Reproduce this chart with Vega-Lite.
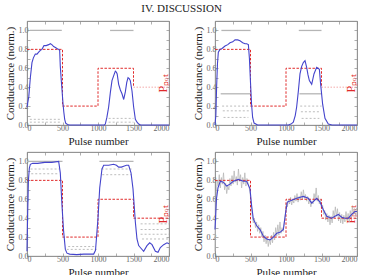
{
  "$schema": "https://vega.github.io/schema/vega-lite/v6.json",
  "title": {"text": "IV.    DISCUSSION", "font": "Liberation Serif", "fontSize": 11, "fontWeight": "normal", "color": "#222", "anchor": "middle", "offset": 6},
  "padding": {"left": 3, "right": 5, "top": 3, "bottom": 0},
  "bounds": "flush",
  "columns": 2,
  "spacing": {"row": 27, "column": 46},
  "datasets": {
    "traces": [
      {"panel":1,"series":"G","seg":"a","pulse":0,"cond":0.19},{"panel":1,"series":"G","seg":"a","pulse":25,"cond":0.3},{"panel":1,"series":"G","seg":"a","pulse":47,"cond":0.5},{"panel":1,"series":"G","seg":"a","pulse":70,"cond":0.66},{"panel":1,"series":"G","seg":"a","pulse":90,"cond":0.71},{"panel":1,"series":"G","seg":"a","pulse":117,"cond":0.75},{"panel":1,"series":"G","seg":"a","pulse":141,"cond":0.75},{"panel":1,"series":"G","seg":"a","pulse":164,"cond":0.77},{"panel":1,"series":"G","seg":"a","pulse":188,"cond":0.79},{"panel":1,"series":"G","seg":"a","pulse":211,"cond":0.8},{"panel":1,"series":"G","seg":"a","pulse":239,"cond":0.84},{"panel":1,"series":"G","seg":"a","pulse":270,"cond":0.84},{"panel":1,"series":"G","seg":"a","pulse":305,"cond":0.85},{"panel":1,"series":"G","seg":"a","pulse":329,"cond":0.86},{"panel":1,"series":"G","seg":"a","pulse":350,"cond":0.85},{"panel":1,"series":"G","seg":"a","pulse":376,"cond":0.83},{"panel":1,"series":"G","seg":"a","pulse":400,"cond":0.82},{"panel":1,"series":"G","seg":"a","pulse":422,"cond":0.81},{"panel":1,"series":"G","seg":"a","pulse":446,"cond":0.8},{"panel":1,"series":"G","seg":"a","pulse":460,"cond":0.79},{"panel":1,"series":"G","seg":"a","pulse":469,"cond":0.62},{"panel":1,"series":"G","seg":"a","pulse":482,"cond":0.48},{"panel":1,"series":"G","seg":"a","pulse":493,"cond":0.37},{"panel":1,"series":"G","seg":"a","pulse":507,"cond":0.23},{"panel":1,"series":"G","seg":"a","pulse":518,"cond":0.14},{"panel":1,"series":"G","seg":"a","pulse":531,"cond":0.06},{"panel":1,"series":"G","seg":"a","pulse":545,"cond":0.02},{"panel":1,"series":"G","seg":"a","pulse":570,"cond":0.005},{"panel":1,"series":"G","seg":"a","pulse":600,"cond":0},{"panel":1,"series":"G","seg":"a","pulse":1090,"cond":0},{"panel":1,"series":"G","seg":"a","pulse":1103,"cond":0.01},{"panel":1,"series":"G","seg":"a","pulse":1125,"cond":0.08},{"panel":1,"series":"G","seg":"a","pulse":1150,"cond":0.19},{"panel":1,"series":"G","seg":"a","pulse":1175,"cond":0.35},{"panel":1,"series":"G","seg":"a","pulse":1197,"cond":0.47},{"panel":1,"series":"G","seg":"a","pulse":1220,"cond":0.52},{"panel":1,"series":"G","seg":"a","pulse":1244,"cond":0.57},{"panel":1,"series":"G","seg":"a","pulse":1258,"cond":0.56},{"panel":1,"series":"G","seg":"a","pulse":1270,"cond":0.54},{"panel":1,"series":"G","seg":"a","pulse":1291,"cond":0.43},{"panel":1,"series":"G","seg":"a","pulse":1315,"cond":0.37},{"panel":1,"series":"G","seg":"a","pulse":1338,"cond":0.33},{"panel":1,"series":"G","seg":"a","pulse":1362,"cond":0.27},{"panel":1,"series":"G","seg":"a","pulse":1385,"cond":0.35},{"panel":1,"series":"G","seg":"a","pulse":1405,"cond":0.45},{"panel":1,"series":"G","seg":"a","pulse":1423,"cond":0.5},{"panel":1,"series":"G","seg":"a","pulse":1440,"cond":0.49},{"panel":1,"series":"G","seg":"a","pulse":1455,"cond":0.47},{"panel":1,"series":"G","seg":"a","pulse":1479,"cond":0.36},{"panel":1,"series":"G","seg":"a","pulse":1502,"cond":0.19},{"panel":1,"series":"G","seg":"a","pulse":1526,"cond":0.06},{"panel":1,"series":"G","seg":"a","pulse":1550,"cond":0.03},{"panel":1,"series":"G","seg":"a","pulse":1573,"cond":0.01},{"panel":1,"series":"G","seg":"a","pulse":1600,"cond":0},{"panel":1,"series":"G","seg":"a","pulse":2000,"cond":0},
      {"panel":1,"series":"P","seg":"a","pulse":0,"cond":0.8},{"panel":1,"series":"P","seg":"a","pulse":500,"cond":0.8},{"panel":1,"series":"P","seg":"a","pulse":500,"cond":0.2},{"panel":1,"series":"P","seg":"a","pulse":1000,"cond":0.2},{"panel":1,"series":"P","seg":"a","pulse":1000,"cond":0.6},{"panel":1,"series":"P","seg":"a","pulse":1500,"cond":0.6},{"panel":1,"series":"P","seg":"a","pulse":1500,"cond":0.4},
      {"panel":1,"series":"Pf","seg":"a","pulse":1500,"cond":0.4},{"panel":1,"series":"Pf","seg":"a","pulse":2000,"cond":0.4},
      {"panel":1,"series":"gs","seg":"a","pulse":40,"cond":1.0},{"panel":1,"series":"gs","seg":"a","pulse":490,"cond":1.0},{"panel":1,"series":"gs","seg":"b","pulse":1170,"cond":1.0},{"panel":1,"series":"gs","seg":"b","pulse":1500,"cond":1.0},
      {"panel":1,"series":"gd","seg":"a","pulse":40,"cond":0.06},{"panel":1,"series":"gd","seg":"a","pulse":490,"cond":0.06},{"panel":1,"series":"gd","seg":"b","pulse":40,"cond":0.03},{"panel":1,"series":"gd","seg":"b","pulse":490,"cond":0.03},{"panel":1,"series":"gd","seg":"c","pulse":1150,"cond":0.07},{"panel":1,"series":"gd","seg":"c","pulse":1500,"cond":0.07},{"panel":1,"series":"gd","seg":"d","pulse":1150,"cond":0.03},{"panel":1,"series":"gd","seg":"d","pulse":1500,"cond":0.03},

      {"panel":2,"series":"G","seg":"a","pulse":0,"cond":0},{"panel":2,"series":"G","seg":"a","pulse":12,"cond":0.1},{"panel":2,"series":"G","seg":"a","pulse":23,"cond":0.41},{"panel":2,"series":"G","seg":"a","pulse":35,"cond":0.65},{"panel":2,"series":"G","seg":"a","pulse":47,"cond":0.77},{"panel":2,"series":"G","seg":"a","pulse":70,"cond":0.8},{"panel":2,"series":"G","seg":"a","pulse":100,"cond":0.81},{"panel":2,"series":"G","seg":"a","pulse":141,"cond":0.835},{"panel":2,"series":"G","seg":"a","pulse":180,"cond":0.85},{"panel":2,"series":"G","seg":"a","pulse":211,"cond":0.87},{"panel":2,"series":"G","seg":"a","pulse":250,"cond":0.88},{"panel":2,"series":"G","seg":"a","pulse":282,"cond":0.9},{"panel":2,"series":"G","seg":"a","pulse":320,"cond":0.9},{"panel":2,"series":"G","seg":"a","pulse":352,"cond":0.89},{"panel":2,"series":"G","seg":"a","pulse":390,"cond":0.87},{"panel":2,"series":"G","seg":"a","pulse":423,"cond":0.86},{"panel":2,"series":"G","seg":"a","pulse":446,"cond":0.86},{"panel":2,"series":"G","seg":"a","pulse":470,"cond":0.85},{"panel":2,"series":"G","seg":"a","pulse":485,"cond":0.7},{"panel":2,"series":"G","seg":"a","pulse":500,"cond":0.45},{"panel":2,"series":"G","seg":"a","pulse":515,"cond":0.22},{"panel":2,"series":"G","seg":"a","pulse":530,"cond":0.08},{"panel":2,"series":"G","seg":"a","pulse":550,"cond":0.02},{"panel":2,"series":"G","seg":"a","pulse":600,"cond":0},{"panel":2,"series":"G","seg":"a","pulse":1033,"cond":0},{"panel":2,"series":"G","seg":"a","pulse":1070,"cond":0.01},{"panel":2,"series":"G","seg":"a","pulse":1103,"cond":0.03},{"panel":2,"series":"G","seg":"a","pulse":1130,"cond":0.1},{"panel":2,"series":"G","seg":"a","pulse":1150,"cond":0.19},{"panel":2,"series":"G","seg":"a","pulse":1174,"cond":0.36},{"panel":2,"series":"G","seg":"a","pulse":1197,"cond":0.54},{"panel":2,"series":"G","seg":"a","pulse":1221,"cond":0.62},{"panel":2,"series":"G","seg":"a","pulse":1244,"cond":0.66},{"panel":2,"series":"G","seg":"a","pulse":1268,"cond":0.68},{"panel":2,"series":"G","seg":"a","pulse":1291,"cond":0.61},{"panel":2,"series":"G","seg":"a","pulse":1310,"cond":0.53},{"panel":2,"series":"G","seg":"a","pulse":1329,"cond":0.47},{"panel":2,"series":"G","seg":"a","pulse":1362,"cond":0.43},{"panel":2,"series":"G","seg":"a","pulse":1394,"cond":0.54},{"panel":2,"series":"G","seg":"a","pulse":1432,"cond":0.61},{"panel":2,"series":"G","seg":"a","pulse":1470,"cond":0.59},{"panel":2,"series":"G","seg":"a","pulse":1488,"cond":0.43},{"panel":2,"series":"G","seg":"a","pulse":1516,"cond":0.22},{"panel":2,"series":"G","seg":"a","pulse":1549,"cond":0.07},{"panel":2,"series":"G","seg":"a","pulse":1596,"cond":0.01},{"panel":2,"series":"G","seg":"a","pulse":1650,"cond":0},{"panel":2,"series":"G","seg":"a","pulse":2000,"cond":0},
      {"panel":2,"series":"P","seg":"a","pulse":0,"cond":0.8},{"panel":2,"series":"P","seg":"a","pulse":500,"cond":0.8},{"panel":2,"series":"P","seg":"a","pulse":500,"cond":0.2},{"panel":2,"series":"P","seg":"a","pulse":1000,"cond":0.2},{"panel":2,"series":"P","seg":"a","pulse":1000,"cond":0.6},{"panel":2,"series":"P","seg":"a","pulse":1500,"cond":0.6},{"panel":2,"series":"P","seg":"a","pulse":1500,"cond":0.4},
      {"panel":2,"series":"Pf","seg":"a","pulse":1500,"cond":0.4},{"panel":2,"series":"Pf","seg":"a","pulse":2000,"cond":0.4},
      {"panel":2,"series":"gs","seg":"a","pulse":90,"cond":1.0},{"panel":2,"series":"gs","seg":"a","pulse":500,"cond":1.0},{"panel":2,"series":"gs","seg":"b","pulse":1180,"cond":1.0},{"panel":2,"series":"gs","seg":"b","pulse":1500,"cond":1.0},{"panel":2,"series":"gs","seg":"c","pulse":80,"cond":0.33},{"panel":2,"series":"gs","seg":"c","pulse":500,"cond":0.33},{"panel":2,"series":"gs","seg":"d","pulse":1190,"cond":0.33},{"panel":2,"series":"gs","seg":"d","pulse":1500,"cond":0.33},
      {"panel":2,"series":"gd","seg":"a","pulse":100,"cond":0.2},{"panel":2,"series":"gd","seg":"a","pulse":500,"cond":0.2},{"panel":2,"series":"gd","seg":"b","pulse":1200,"cond":0.2},{"panel":2,"series":"gd","seg":"b","pulse":1500,"cond":0.2},{"panel":2,"series":"gd","seg":"c","pulse":110,"cond":0.15},{"panel":2,"series":"gd","seg":"c","pulse":480,"cond":0.15},{"panel":2,"series":"gd","seg":"d","pulse":1210,"cond":0.14},{"panel":2,"series":"gd","seg":"d","pulse":1480,"cond":0.14},{"panel":2,"series":"gd","seg":"e","pulse":120,"cond":0.08},{"panel":2,"series":"gd","seg":"e","pulse":470,"cond":0.08},{"panel":2,"series":"gd","seg":"f","pulse":1220,"cond":0.07},{"panel":2,"series":"gd","seg":"f","pulse":1470,"cond":0.07},

      {"panel":3,"series":"G","seg":"a","pulse":0,"cond":0.05},{"panel":3,"series":"G","seg":"a","pulse":8,"cond":0.4},{"panel":3,"series":"G","seg":"a","pulse":20,"cond":0.8},{"panel":3,"series":"G","seg":"a","pulse":33,"cond":0.93},{"panel":3,"series":"G","seg":"a","pulse":47,"cond":0.97},{"panel":3,"series":"G","seg":"a","pulse":80,"cond":0.98},{"panel":3,"series":"G","seg":"a","pulse":150,"cond":0.98},{"panel":3,"series":"G","seg":"a","pulse":250,"cond":0.99},{"panel":3,"series":"G","seg":"a","pulse":350,"cond":0.99},{"panel":3,"series":"G","seg":"a","pulse":446,"cond":1.0},{"panel":3,"series":"G","seg":"a","pulse":469,"cond":0.88},{"panel":3,"series":"G","seg":"a","pulse":493,"cond":0.53},{"panel":3,"series":"G","seg":"a","pulse":516,"cond":0.26},{"panel":3,"series":"G","seg":"a","pulse":540,"cond":0.07},{"panel":3,"series":"G","seg":"a","pulse":563,"cond":0.03},{"panel":3,"series":"G","seg":"a","pulse":600,"cond":0.02},{"panel":3,"series":"G","seg":"a","pulse":700,"cond":0.015},{"panel":3,"series":"G","seg":"a","pulse":800,"cond":0.02},{"panel":3,"series":"G","seg":"a","pulse":939,"cond":0.02},{"panel":3,"series":"G","seg":"a","pulse":965,"cond":0.06},{"panel":3,"series":"G","seg":"a","pulse":1000,"cond":0.4},{"panel":3,"series":"G","seg":"a","pulse":1024,"cond":0.72},{"panel":3,"series":"G","seg":"a","pulse":1056,"cond":0.92},{"panel":3,"series":"G","seg":"a","pulse":1080,"cond":0.96},{"panel":3,"series":"G","seg":"a","pulse":1150,"cond":0.96},{"panel":3,"series":"G","seg":"a","pulse":1220,"cond":0.97},{"panel":3,"series":"G","seg":"a","pulse":1260,"cond":0.96},{"panel":3,"series":"G","seg":"a","pulse":1291,"cond":0.94},{"panel":3,"series":"G","seg":"a","pulse":1330,"cond":0.94},{"panel":3,"series":"G","seg":"a","pulse":1362,"cond":0.95},{"panel":3,"series":"G","seg":"a","pulse":1400,"cond":0.96},{"panel":3,"series":"G","seg":"a","pulse":1432,"cond":0.96},{"panel":3,"series":"G","seg":"a","pulse":1465,"cond":0.88},{"panel":3,"series":"G","seg":"a","pulse":1493,"cond":0.71},{"panel":3,"series":"G","seg":"a","pulse":1526,"cond":0.36},{"panel":3,"series":"G","seg":"a","pulse":1549,"cond":0.18},{"panel":3,"series":"G","seg":"a","pulse":1573,"cond":0.11},{"panel":3,"series":"G","seg":"a","pulse":1596,"cond":0.09},{"panel":3,"series":"G","seg":"a","pulse":1643,"cond":0.05},{"panel":3,"series":"G","seg":"a","pulse":1690,"cond":0.11},{"panel":3,"series":"G","seg":"a","pulse":1728,"cond":0.14},{"panel":3,"series":"G","seg":"a","pulse":1761,"cond":0.12},{"panel":3,"series":"G","seg":"a","pulse":1808,"cond":0.05},{"panel":3,"series":"G","seg":"a","pulse":1845,"cond":0.04},{"panel":3,"series":"G","seg":"a","pulse":1878,"cond":0.09},{"panel":3,"series":"G","seg":"a","pulse":1925,"cond":0.12},{"panel":3,"series":"G","seg":"a","pulse":1972,"cond":0.14},{"panel":3,"series":"G","seg":"a","pulse":2000,"cond":0.13},
      {"panel":3,"series":"P","seg":"a","pulse":0,"cond":0.8},{"panel":3,"series":"P","seg":"a","pulse":500,"cond":0.8},{"panel":3,"series":"P","seg":"a","pulse":500,"cond":0.2},{"panel":3,"series":"P","seg":"a","pulse":1000,"cond":0.2},{"panel":3,"series":"P","seg":"a","pulse":1000,"cond":0.6},{"panel":3,"series":"P","seg":"a","pulse":1500,"cond":0.6},{"panel":3,"series":"P","seg":"a","pulse":1500,"cond":0.4},{"panel":3,"series":"P","seg":"a","pulse":2000,"cond":0.4},
      {"panel":3,"series":"gs","seg":"a","pulse":0,"cond":1.0},{"panel":3,"series":"gs","seg":"a","pulse":500,"cond":1.0},{"panel":3,"series":"gs","seg":"b","pulse":1020,"cond":1.0},{"panel":3,"series":"gs","seg":"b","pulse":1500,"cond":1.0},
      {"panel":3,"series":"gd","seg":"a","pulse":50,"cond":0.92},{"panel":3,"series":"gd","seg":"a","pulse":460,"cond":0.92},{"panel":3,"series":"gd","seg":"b","pulse":60,"cond":0.87},{"panel":3,"series":"gd","seg":"b","pulse":450,"cond":0.87},{"panel":3,"series":"gd","seg":"c","pulse":1050,"cond":0.92},{"panel":3,"series":"gd","seg":"c","pulse":1480,"cond":0.92},{"panel":3,"series":"gd","seg":"d","pulse":1060,"cond":0.86},{"panel":3,"series":"gd","seg":"d","pulse":1470,"cond":0.86},{"panel":3,"series":"gd","seg":"e","pulse":560,"cond":0.07},{"panel":3,"series":"gd","seg":"e","pulse":980,"cond":0.07},{"panel":3,"series":"gd","seg":"f","pulse":580,"cond":0.1},{"panel":3,"series":"gd","seg":"f","pulse":960,"cond":0.1},{"panel":3,"series":"gd","seg":"g","pulse":1600,"cond":0.34},{"panel":3,"series":"gd","seg":"g","pulse":2000,"cond":0.34},{"panel":3,"series":"gd","seg":"h","pulse":1600,"cond":0.28},{"panel":3,"series":"gd","seg":"h","pulse":2000,"cond":0.28},{"panel":3,"series":"gd","seg":"i","pulse":1600,"cond":0.23},{"panel":3,"series":"gd","seg":"i","pulse":2000,"cond":0.23},{"panel":3,"series":"gd","seg":"j","pulse":1620,"cond":0.18},{"panel":3,"series":"gd","seg":"j","pulse":2000,"cond":0.18},

      {"panel":4,"series":"G","seg":"a","pulse":0,"cond":0.28},{"panel":4,"series":"G","seg":"a","pulse":20,"cond":0.6},{"panel":4,"series":"G","seg":"a","pulse":42,"cond":0.72},{"panel":4,"series":"G","seg":"a","pulse":75,"cond":0.79},{"panel":4,"series":"G","seg":"a","pulse":117,"cond":0.78},{"panel":4,"series":"G","seg":"a","pulse":164,"cond":0.74},{"panel":4,"series":"G","seg":"a","pulse":211,"cond":0.76},{"panel":4,"series":"G","seg":"a","pulse":258,"cond":0.79},{"panel":4,"series":"G","seg":"a","pulse":329,"cond":0.81},{"panel":4,"series":"G","seg":"a","pulse":399,"cond":0.79},{"panel":4,"series":"G","seg":"a","pulse":446,"cond":0.79},{"panel":4,"series":"G","seg":"a","pulse":493,"cond":0.71},{"panel":4,"series":"G","seg":"a","pulse":516,"cond":0.53},{"panel":4,"series":"G","seg":"a","pulse":540,"cond":0.39},{"panel":4,"series":"G","seg":"a","pulse":587,"cond":0.32},{"panel":4,"series":"G","seg":"a","pulse":634,"cond":0.28},{"panel":4,"series":"G","seg":"a","pulse":681,"cond":0.21},{"panel":4,"series":"G","seg":"a","pulse":728,"cond":0.18},{"panel":4,"series":"G","seg":"a","pulse":775,"cond":0.17},{"panel":4,"series":"G","seg":"a","pulse":822,"cond":0.2},{"panel":4,"series":"G","seg":"a","pulse":869,"cond":0.24},{"panel":4,"series":"G","seg":"a","pulse":916,"cond":0.25},{"panel":4,"series":"G","seg":"a","pulse":963,"cond":0.28},{"panel":4,"series":"G","seg":"a","pulse":995,"cond":0.46},{"panel":4,"series":"G","seg":"a","pulse":1019,"cond":0.57},{"panel":4,"series":"G","seg":"a","pulse":1080,"cond":0.59},{"panel":4,"series":"G","seg":"a","pulse":1150,"cond":0.61},{"panel":4,"series":"G","seg":"a","pulse":1244,"cond":0.63},{"panel":4,"series":"G","seg":"a","pulse":1315,"cond":0.61},{"panel":4,"series":"G","seg":"a","pulse":1362,"cond":0.56},{"panel":4,"series":"G","seg":"a","pulse":1432,"cond":0.61},{"panel":4,"series":"G","seg":"a","pulse":1479,"cond":0.57},{"panel":4,"series":"G","seg":"a","pulse":1526,"cond":0.49},{"panel":4,"series":"G","seg":"a","pulse":1573,"cond":0.42},{"panel":4,"series":"G","seg":"a","pulse":1643,"cond":0.4},{"panel":4,"series":"G","seg":"a","pulse":1690,"cond":0.42},{"panel":4,"series":"G","seg":"a","pulse":1737,"cond":0.44},{"panel":4,"series":"G","seg":"a","pulse":1784,"cond":0.41},{"panel":4,"series":"G","seg":"a","pulse":1831,"cond":0.4},{"panel":4,"series":"G","seg":"a","pulse":1878,"cond":0.4},{"panel":4,"series":"G","seg":"a","pulse":1925,"cond":0.44},{"panel":4,"series":"G","seg":"a","pulse":1972,"cond":0.47},{"panel":4,"series":"G","seg":"a","pulse":2000,"cond":0.47},
      {"panel":4,"series":"P","seg":"a","pulse":0,"cond":0.8},{"panel":4,"series":"P","seg":"a","pulse":500,"cond":0.8},{"panel":4,"series":"P","seg":"a","pulse":500,"cond":0.2},{"panel":4,"series":"P","seg":"a","pulse":1000,"cond":0.2},{"panel":4,"series":"P","seg":"a","pulse":1000,"cond":0.6},{"panel":4,"series":"P","seg":"a","pulse":1500,"cond":0.6},{"panel":4,"series":"P","seg":"a","pulse":1500,"cond":0.4},{"panel":4,"series":"P","seg":"a","pulse":2000,"cond":0.4},
      {"panel":4,"series":"gn","seg":"a","pulse":0,"cond":0.05},{"panel":4,"series":"gn","seg":"a","pulse":10,"cond":0.45},{"panel":4,"series":"gn","seg":"a","pulse":20,"cond":0.68},{"panel":4,"series":"gn","seg":"a","pulse":30,"cond":0.8},{"panel":4,"series":"gn","seg":"a","pulse":45,"cond":0.74},{"panel":4,"series":"gn","seg":"a","pulse":60,"cond":0.86},{"panel":4,"series":"gn","seg":"a","pulse":75,"cond":0.72},{"panel":4,"series":"gn","seg":"a","pulse":90,"cond":0.83},{"panel":4,"series":"gn","seg":"a","pulse":105,"cond":0.76},{"panel":4,"series":"gn","seg":"a","pulse":120,"cond":0.88},{"panel":4,"series":"gn","seg":"a","pulse":135,"cond":0.7},{"panel":4,"series":"gn","seg":"a","pulse":150,"cond":0.77},{"panel":4,"series":"gn","seg":"a","pulse":165,"cond":0.66},{"panel":4,"series":"gn","seg":"a","pulse":180,"cond":0.74},{"panel":4,"series":"gn","seg":"a","pulse":195,"cond":0.7},{"panel":4,"series":"gn","seg":"a","pulse":210,"cond":0.82},{"panel":4,"series":"gn","seg":"a","pulse":225,"cond":0.74},{"panel":4,"series":"gn","seg":"a","pulse":240,"cond":0.85},{"panel":4,"series":"gn","seg":"a","pulse":255,"cond":0.76},{"panel":4,"series":"gn","seg":"a","pulse":270,"cond":0.9},{"panel":4,"series":"gn","seg":"a","pulse":285,"cond":0.78},{"panel":4,"series":"gn","seg":"a","pulse":300,"cond":0.84},{"panel":4,"series":"gn","seg":"a","pulse":315,"cond":0.75},{"panel":4,"series":"gn","seg":"a","pulse":330,"cond":0.92},{"panel":4,"series":"gn","seg":"a","pulse":345,"cond":0.79},{"panel":4,"series":"gn","seg":"a","pulse":360,"cond":0.86},{"panel":4,"series":"gn","seg":"a","pulse":375,"cond":0.72},{"panel":4,"series":"gn","seg":"a","pulse":390,"cond":0.83},{"panel":4,"series":"gn","seg":"a","pulse":405,"cond":0.76},{"panel":4,"series":"gn","seg":"a","pulse":420,"cond":0.88},{"panel":4,"series":"gn","seg":"a","pulse":435,"cond":0.74},{"panel":4,"series":"gn","seg":"a","pulse":450,"cond":0.82},{"panel":4,"series":"gn","seg":"a","pulse":465,"cond":0.77},{"panel":4,"series":"gn","seg":"a","pulse":480,"cond":0.73},{"panel":4,"series":"gn","seg":"a","pulse":495,"cond":0.66},{"panel":4,"series":"gn","seg":"a","pulse":510,"cond":0.55},{"panel":4,"series":"gn","seg":"a","pulse":525,"cond":0.42},{"panel":4,"series":"gn","seg":"a","pulse":540,"cond":0.35},{"panel":4,"series":"gn","seg":"a","pulse":555,"cond":0.4},{"panel":4,"series":"gn","seg":"a","pulse":570,"cond":0.3},{"panel":4,"series":"gn","seg":"a","pulse":585,"cond":0.36},{"panel":4,"series":"gn","seg":"a","pulse":600,"cond":0.26},{"panel":4,"series":"gn","seg":"a","pulse":615,"cond":0.33},{"panel":4,"series":"gn","seg":"a","pulse":630,"cond":0.24},{"panel":4,"series":"gn","seg":"a","pulse":645,"cond":0.3},{"panel":4,"series":"gn","seg":"a","pulse":660,"cond":0.2},{"panel":4,"series":"gn","seg":"a","pulse":675,"cond":0.26},{"panel":4,"series":"gn","seg":"a","pulse":690,"cond":0.15},{"panel":4,"series":"gn","seg":"a","pulse":705,"cond":0.22},{"panel":4,"series":"gn","seg":"a","pulse":720,"cond":0.13},{"panel":4,"series":"gn","seg":"a","pulse":735,"cond":0.2},{"panel":4,"series":"gn","seg":"a","pulse":750,"cond":0.1},{"panel":4,"series":"gn","seg":"a","pulse":765,"cond":0.18},{"panel":4,"series":"gn","seg":"a","pulse":780,"cond":0.12},{"panel":4,"series":"gn","seg":"a","pulse":795,"cond":0.22},{"panel":4,"series":"gn","seg":"a","pulse":810,"cond":0.14},{"panel":4,"series":"gn","seg":"a","pulse":825,"cond":0.25},{"panel":4,"series":"gn","seg":"a","pulse":840,"cond":0.17},{"panel":4,"series":"gn","seg":"a","pulse":855,"cond":0.3},{"panel":4,"series":"gn","seg":"a","pulse":870,"cond":0.21},{"panel":4,"series":"gn","seg":"a","pulse":885,"cond":0.33},{"panel":4,"series":"gn","seg":"a","pulse":900,"cond":0.22},{"panel":4,"series":"gn","seg":"a","pulse":915,"cond":0.36},{"panel":4,"series":"gn","seg":"a","pulse":930,"cond":0.24},{"panel":4,"series":"gn","seg":"a","pulse":945,"cond":0.3},{"panel":4,"series":"gn","seg":"a","pulse":960,"cond":0.26},{"panel":4,"series":"gn","seg":"a","pulse":975,"cond":0.36},{"panel":4,"series":"gn","seg":"a","pulse":990,"cond":0.44},{"panel":4,"series":"gn","seg":"a","pulse":1005,"cond":0.56},{"panel":4,"series":"gn","seg":"a","pulse":1020,"cond":0.52},{"panel":4,"series":"gn","seg":"a","pulse":1035,"cond":0.6},{"panel":4,"series":"gn","seg":"a","pulse":1050,"cond":0.55},{"panel":4,"series":"gn","seg":"a","pulse":1065,"cond":0.62},{"panel":4,"series":"gn","seg":"a","pulse":1080,"cond":0.54},{"panel":4,"series":"gn","seg":"a","pulse":1095,"cond":0.6},{"panel":4,"series":"gn","seg":"a","pulse":1110,"cond":0.56},{"panel":4,"series":"gn","seg":"a","pulse":1125,"cond":0.64},{"panel":4,"series":"gn","seg":"a","pulse":1140,"cond":0.58},{"panel":4,"series":"gn","seg":"a","pulse":1155,"cond":0.66},{"panel":4,"series":"gn","seg":"a","pulse":1170,"cond":0.57},{"panel":4,"series":"gn","seg":"a","pulse":1185,"cond":0.63},{"panel":4,"series":"gn","seg":"a","pulse":1200,"cond":0.59},{"panel":4,"series":"gn","seg":"a","pulse":1215,"cond":0.68},{"panel":4,"series":"gn","seg":"a","pulse":1230,"cond":0.6},{"panel":4,"series":"gn","seg":"a","pulse":1245,"cond":0.7},{"panel":4,"series":"gn","seg":"a","pulse":1260,"cond":0.61},{"panel":4,"series":"gn","seg":"a","pulse":1275,"cond":0.65},{"panel":4,"series":"gn","seg":"a","pulse":1290,"cond":0.58},{"panel":4,"series":"gn","seg":"a","pulse":1305,"cond":0.63},{"panel":4,"series":"gn","seg":"a","pulse":1320,"cond":0.55},{"panel":4,"series":"gn","seg":"a","pulse":1335,"cond":0.6},{"panel":4,"series":"gn","seg":"a","pulse":1350,"cond":0.52},{"panel":4,"series":"gn","seg":"a","pulse":1365,"cond":0.58},{"panel":4,"series":"gn","seg":"a","pulse":1380,"cond":0.55},{"panel":4,"series":"gn","seg":"a","pulse":1395,"cond":0.66},{"panel":4,"series":"gn","seg":"a","pulse":1410,"cond":0.6},{"panel":4,"series":"gn","seg":"a","pulse":1425,"cond":0.72},{"panel":4,"series":"gn","seg":"a","pulse":1440,"cond":0.58},{"panel":4,"series":"gn","seg":"a","pulse":1455,"cond":0.64},{"panel":4,"series":"gn","seg":"a","pulse":1470,"cond":0.55},{"panel":4,"series":"gn","seg":"a","pulse":1485,"cond":0.6},{"panel":4,"series":"gn","seg":"a","pulse":1500,"cond":0.5},{"panel":4,"series":"gn","seg":"a","pulse":1515,"cond":0.54},{"panel":4,"series":"gn","seg":"a","pulse":1530,"cond":0.44},{"panel":4,"series":"gn","seg":"a","pulse":1545,"cond":0.48},{"panel":4,"series":"gn","seg":"a","pulse":1560,"cond":0.38},{"panel":4,"series":"gn","seg":"a","pulse":1575,"cond":0.45},{"panel":4,"series":"gn","seg":"a","pulse":1590,"cond":0.36},{"panel":4,"series":"gn","seg":"a","pulse":1605,"cond":0.43},{"panel":4,"series":"gn","seg":"a","pulse":1620,"cond":0.33},{"panel":4,"series":"gn","seg":"a","pulse":1635,"cond":0.42},{"panel":4,"series":"gn","seg":"a","pulse":1650,"cond":0.35},{"panel":4,"series":"gn","seg":"a","pulse":1665,"cond":0.48},{"panel":4,"series":"gn","seg":"a","pulse":1680,"cond":0.4},{"panel":4,"series":"gn","seg":"a","pulse":1695,"cond":0.52},{"panel":4,"series":"gn","seg":"a","pulse":1710,"cond":0.42},{"panel":4,"series":"gn","seg":"a","pulse":1725,"cond":0.5},{"panel":4,"series":"gn","seg":"a","pulse":1740,"cond":0.37},{"panel":4,"series":"gn","seg":"a","pulse":1755,"cond":0.46},{"panel":4,"series":"gn","seg":"a","pulse":1770,"cond":0.35},{"panel":4,"series":"gn","seg":"a","pulse":1785,"cond":0.44},{"panel":4,"series":"gn","seg":"a","pulse":1800,"cond":0.34},{"panel":4,"series":"gn","seg":"a","pulse":1815,"cond":0.43},{"panel":4,"series":"gn","seg":"a","pulse":1830,"cond":0.36},{"panel":4,"series":"gn","seg":"a","pulse":1845,"cond":0.47},{"panel":4,"series":"gn","seg":"a","pulse":1860,"cond":0.38},{"panel":4,"series":"gn","seg":"a","pulse":1875,"cond":0.45},{"panel":4,"series":"gn","seg":"a","pulse":1890,"cond":0.36},{"panel":4,"series":"gn","seg":"a","pulse":1905,"cond":0.48},{"panel":4,"series":"gn","seg":"a","pulse":1920,"cond":0.4},{"panel":4,"series":"gn","seg":"a","pulse":1935,"cond":0.52},{"panel":4,"series":"gn","seg":"a","pulse":1950,"cond":0.44},{"panel":4,"series":"gn","seg":"a","pulse":1965,"cond":0.5},{"panel":4,"series":"gn","seg":"a","pulse":1980,"cond":0.42},{"panel":4,"series":"gn","seg":"a","pulse":1995,"cond":0.51}
    ]
  },
  "data": {"name": "traces"},
  "concat": [
    {
      "width": 142, "height": 104,
      "transform": [{"filter": "datum.panel == 1"}],
      "resolve": {"axis": {"x": "independent", "y": "independent"}},
      "layer": [
        {"transform": [{"filter": "datum.series == 'gs'"}], "mark": {"type": "line", "color": "#b5b5b5", "strokeWidth": 1.3},
         "encoding": {"x": {"field": "pulse", "type": "quantitative", "scale": {"domain": [0, 2000]}, "axis": {"orient": "bottom", "values": [0,250,500,750,1000,1250,1500,1750,2000], "labelExpr": "datum.value % 500 == 0 ? format(datum.value, 'd') : ''", "title": "Pulse number"}},
                      "y": {"field": "cond", "type": "quantitative", "scale": {"domain": [0, 1.1]}, "axis": {"orient": "left", "values": [0,0.1,0.2,0.3,0.4,0.5,0.6,0.7,0.8,0.9,1.0], "labelExpr": "round(datum.value * 10) % 2 == 0 ? format(datum.value, '.1f') : ''", "title": "Conductance (norm.)"}},
                      "detail": {"field": "seg"}, "order": {"value": null}}},
        {"transform": [{"filter": "datum.series == 'gd'"}], "mark": {"type": "line", "color": "#b5b5b5", "strokeWidth": 0.9, "strokeDash": [2, 2]},
         "encoding": {"x": {"field": "pulse", "type": "quantitative", "axis": null}, "y": {"field": "cond", "type": "quantitative", "axis": null}, "detail": {"field": "seg"}, "order": {"value": null}}},
        {"transform": [{"filter": "datum.series == 'P'"}], "mark": {"type": "line", "color": "#e02a2a", "strokeWidth": 1, "strokeDash": [2.5, 1.5]},
         "encoding": {"x": {"field": "pulse", "type": "quantitative", "axis": null}, "y": {"field": "cond", "type": "quantitative", "axis": null}, "order": {"value": null}}},
        {"transform": [{"filter": "datum.series == 'Pf'"}], "mark": {"type": "line", "color": "#f2a0a0", "strokeWidth": 0.9, "strokeDash": [1.5, 1.5]},
         "encoding": {"x": {"field": "pulse", "type": "quantitative", "axis": null}, "y": {"field": "cond", "type": "quantitative", "axis": null}, "order": {"value": null}}},
        {"transform": [{"filter": "datum.series == 'G'"}], "mark": {"type": "line", "color": "#4444cc", "strokeWidth": 1.1},
         "encoding": {"x": {"field": "pulse", "type": "quantitative", "axis": {"orient": "top", "values": [0,250,500,750,1000,1250,1500,1750,2000], "labels": false, "title": null}},
                      "y": {"field": "cond", "type": "quantitative", "axis": {"orient": "right", "values": [0,0.1,0.2,0.3,0.4,0.5,0.6,0.7,0.8,0.9,1.0], "labels": false, "title": "Pₚₒₜ", "titleColor": "#e02a2a", "titleAngle": 270, "titleY": 62, "titlePadding": 0, "titleFontSize": 12}},
                      "order": {"value": null}}}
      ]
    },
    {
      "width": 142, "height": 104,
      "transform": [{"filter": "datum.panel == 2"}],
      "resolve": {"axis": {"x": "independent", "y": "independent"}},
      "layer": [
        {"transform": [{"filter": "datum.series == 'gs'"}], "mark": {"type": "line", "color": "#b5b5b5", "strokeWidth": 1.3},
         "encoding": {"x": {"field": "pulse", "type": "quantitative", "scale": {"domain": [0, 2000]}, "axis": {"orient": "bottom", "values": [0,250,500,750,1000,1250,1500,1750,2000], "labelExpr": "datum.value % 500 == 0 ? format(datum.value, 'd') : ''", "title": "Pulse number"}},
                      "y": {"field": "cond", "type": "quantitative", "scale": {"domain": [0, 1.1]}, "axis": {"orient": "left", "values": [0,0.1,0.2,0.3,0.4,0.5,0.6,0.7,0.8,0.9,1.0], "labelExpr": "round(datum.value * 10) % 2 == 0 ? format(datum.value, '.1f') : ''", "title": "Conductance (norm.)"}},
                      "detail": {"field": "seg"}, "order": {"value": null}}},
        {"transform": [{"filter": "datum.series == 'gd'"}], "mark": {"type": "line", "color": "#b5b5b5", "strokeWidth": 0.9, "strokeDash": [2, 2]},
         "encoding": {"x": {"field": "pulse", "type": "quantitative", "axis": null}, "y": {"field": "cond", "type": "quantitative", "axis": null}, "detail": {"field": "seg"}, "order": {"value": null}}},
        {"transform": [{"filter": "datum.series == 'P'"}], "mark": {"type": "line", "color": "#e02a2a", "strokeWidth": 1, "strokeDash": [2.5, 1.5]},
         "encoding": {"x": {"field": "pulse", "type": "quantitative", "axis": null}, "y": {"field": "cond", "type": "quantitative", "axis": null}, "order": {"value": null}}},
        {"transform": [{"filter": "datum.series == 'Pf'"}], "mark": {"type": "line", "color": "#f2a0a0", "strokeWidth": 0.9, "strokeDash": [1.5, 1.5]},
         "encoding": {"x": {"field": "pulse", "type": "quantitative", "axis": null}, "y": {"field": "cond", "type": "quantitative", "axis": null}, "order": {"value": null}}},
        {"transform": [{"filter": "datum.series == 'G'"}], "mark": {"type": "line", "color": "#4444cc", "strokeWidth": 1.1},
         "encoding": {"x": {"field": "pulse", "type": "quantitative", "axis": {"orient": "top", "values": [0,250,500,750,1000,1250,1500,1750,2000], "labels": false, "title": null}},
                      "y": {"field": "cond", "type": "quantitative", "axis": {"orient": "right", "values": [0,0.1,0.2,0.3,0.4,0.5,0.6,0.7,0.8,0.9,1.0], "labels": false, "title": "Pₚₒₜ", "titleColor": "#e02a2a", "titleAngle": 270, "titleY": 62, "titlePadding": 0, "titleFontSize": 12}},
                      "order": {"value": null}}}
      ]
    },
    {
      "width": 142, "height": 104,
      "transform": [{"filter": "datum.panel == 3"}],
      "resolve": {"axis": {"x": "independent", "y": "independent"}},
      "layer": [
        {"transform": [{"filter": "datum.series == 'gs'"}], "mark": {"type": "line", "color": "#b5b5b5", "strokeWidth": 1.3},
         "encoding": {"x": {"field": "pulse", "type": "quantitative", "scale": {"domain": [0, 2000]}, "axis": {"orient": "bottom", "values": [0,250,500,750,1000,1250,1500,1750,2000], "labelExpr": "datum.value % 500 == 0 ? format(datum.value, 'd') : ''", "title": "Pulse number"}},
                      "y": {"field": "cond", "type": "quantitative", "scale": {"domain": [0, 1.1]}, "axis": {"orient": "left", "values": [0,0.1,0.2,0.3,0.4,0.5,0.6,0.7,0.8,0.9,1.0], "labelExpr": "round(datum.value * 10) % 2 == 0 ? format(datum.value, '.1f') : ''", "title": "Conductance (norm.)"}},
                      "detail": {"field": "seg"}, "order": {"value": null}}},
        {"transform": [{"filter": "datum.series == 'gd'"}], "mark": {"type": "line", "color": "#b5b5b5", "strokeWidth": 0.9, "strokeDash": [2, 2]},
         "encoding": {"x": {"field": "pulse", "type": "quantitative", "axis": null}, "y": {"field": "cond", "type": "quantitative", "axis": null}, "detail": {"field": "seg"}, "order": {"value": null}}},
        {"transform": [{"filter": "datum.series == 'P'"}], "mark": {"type": "line", "color": "#e02a2a", "strokeWidth": 1, "strokeDash": [2.5, 1.5]},
         "encoding": {"x": {"field": "pulse", "type": "quantitative", "axis": null}, "y": {"field": "cond", "type": "quantitative", "axis": null}, "order": {"value": null}}},
        {"transform": [{"filter": "datum.series == 'G'"}], "mark": {"type": "line", "color": "#4444cc", "strokeWidth": 1.1},
         "encoding": {"x": {"field": "pulse", "type": "quantitative", "axis": {"orient": "top", "values": [0,250,500,750,1000,1250,1500,1750,2000], "labels": false, "title": null}},
                      "y": {"field": "cond", "type": "quantitative", "axis": {"orient": "right", "values": [0,0.1,0.2,0.3,0.4,0.5,0.6,0.7,0.8,0.9,1.0], "labels": false, "title": "Pₚₒₜ", "titleColor": "#e02a2a", "titleAngle": 270, "titleY": 62, "titlePadding": 0, "titleFontSize": 12}},
                      "order": {"value": null}}}
      ]
    },
    {
      "width": 142, "height": 104,
      "transform": [{"filter": "datum.panel == 4"}],
      "resolve": {"axis": {"x": "independent", "y": "independent"}},
      "layer": [
        {"transform": [{"filter": "datum.series == 'gn'"}], "mark": {"type": "line", "color": "#b8b8b8", "strokeWidth": 0.8},
         "encoding": {"x": {"field": "pulse", "type": "quantitative", "scale": {"domain": [0, 2000]}, "axis": {"orient": "bottom", "values": [0,250,500,750,1000,1250,1500,1750,2000], "labelExpr": "datum.value % 500 == 0 ? format(datum.value, 'd') : ''", "title": "Pulse number"}},
                      "y": {"field": "cond", "type": "quantitative", "scale": {"domain": [0, 1.1]}, "axis": {"orient": "left", "values": [0,0.1,0.2,0.3,0.4,0.5,0.6,0.7,0.8,0.9,1.0], "labelExpr": "round(datum.value * 10) % 2 == 0 ? format(datum.value, '.1f') : ''", "title": "Conductance (norm.)"}},
                      "order": {"value": null}}},
        {"transform": [{"filter": "datum.series == 'P'"}], "mark": {"type": "line", "color": "#e02a2a", "strokeWidth": 1, "strokeDash": [2.5, 1.5]},
         "encoding": {"x": {"field": "pulse", "type": "quantitative", "axis": null}, "y": {"field": "cond", "type": "quantitative", "axis": null}, "order": {"value": null}}},
        {"transform": [{"filter": "datum.series == 'G'"}], "mark": {"type": "line", "color": "#4444cc", "strokeWidth": 1.1},
         "encoding": {"x": {"field": "pulse", "type": "quantitative", "axis": {"orient": "top", "values": [0,250,500,750,1000,1250,1500,1750,2000], "labels": false, "title": null}},
                      "y": {"field": "cond", "type": "quantitative", "axis": {"orient": "right", "values": [0,0.1,0.2,0.3,0.4,0.5,0.6,0.7,0.8,0.9,1.0], "labels": false, "title": "Pₚₒₜ", "titleColor": "#e02a2a", "titleAngle": 270, "titleY": 62, "titlePadding": 0, "titleFontSize": 12}},
                      "order": {"value": null}}}
      ]
    }
  ],
  "config": {
    "font": "Liberation Serif",
    "view": {"stroke": "#8c8c8c", "strokeWidth": 0.8},
    "axis": {"grid": false, "domainColor": "#8c8c8c", "domainWidth": 0.8, "tickColor": "#8c8c8c", "tickWidth": 0.7, "tickSize": -3, "labelFont": "Liberation Serif", "labelFontSize": 8, "labelColor": "#666666", "labelPadding": 2, "titleFont": "Liberation Serif", "titleFontSize": 11, "titleFontWeight": "normal", "titleColor": "#222222", "titlePadding": 3}
  }
}
